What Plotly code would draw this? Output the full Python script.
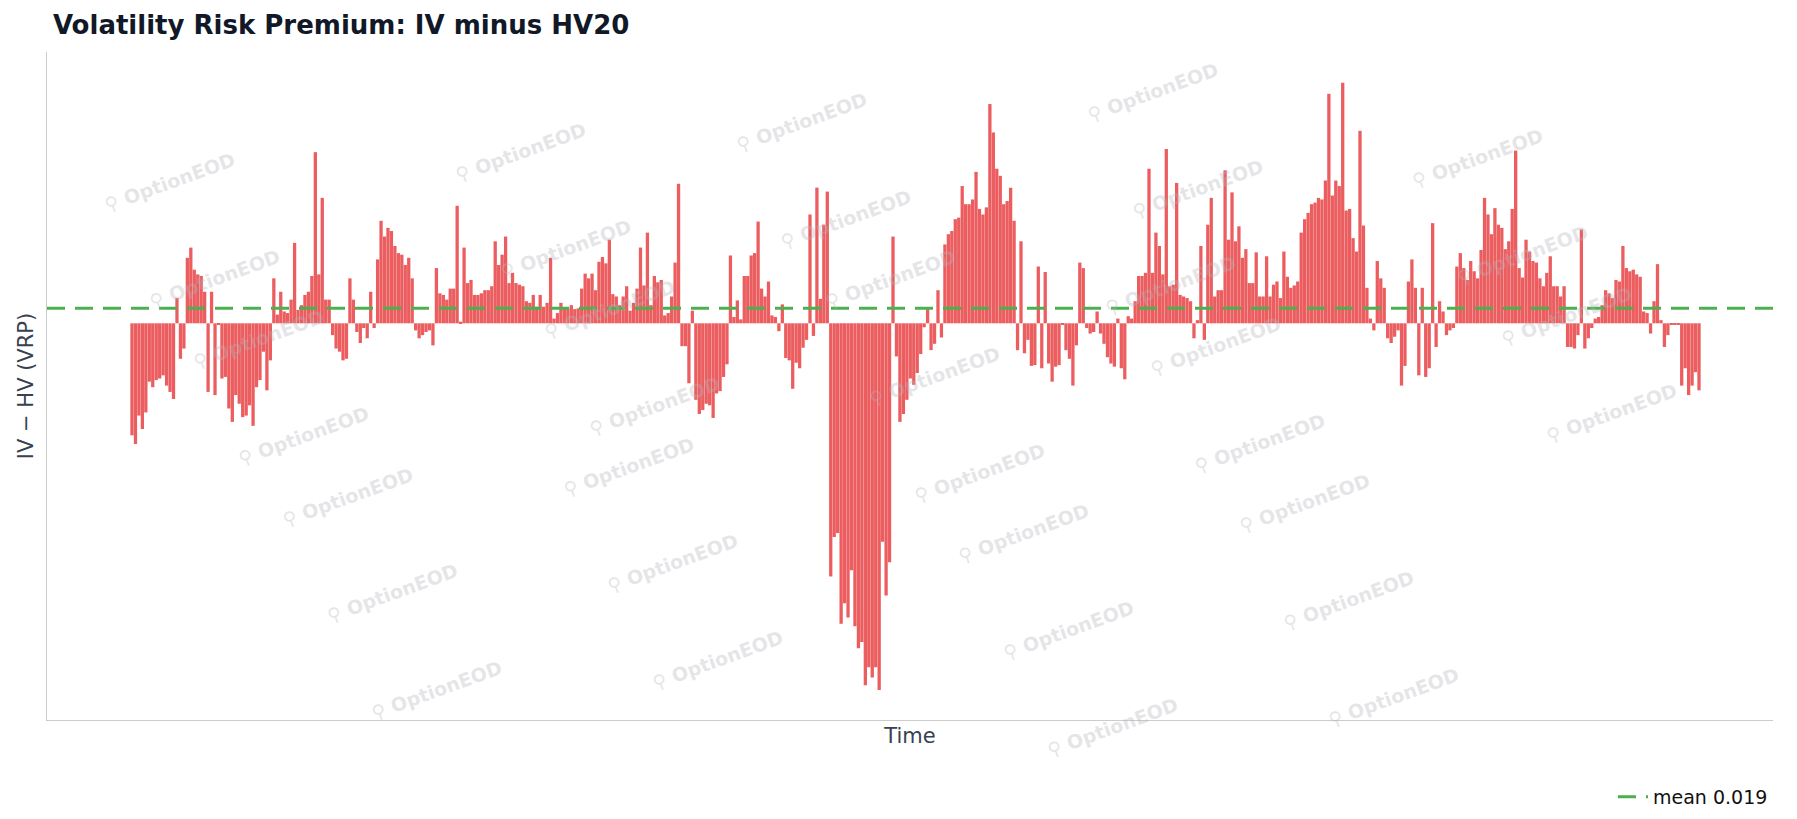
import plotly.graph_objects as go

# VRP values (IV - HV20), in chronological segments
seg1 = [-0.142,-0.153,-0.117,-0.134,-0.113,-0.074,-0.081,-0.072,-0.070,-0.066,-0.079,-0.087,-0.096,
        0.032,-0.045,-0.032,0.083,0.096,0.068,0.062,0.060,0.040,-0.087,0.040,-0.091,-0.002,-0.070,
        -0.068,-0.108,-0.125,-0.091,-0.102,-0.119,-0.117,-0.104,-0.130,-0.081,-0.072,-0.036,-0.085,-0.047,
        0.057,0.011,0.040,0.015,0.013,0.030,0.102,0.017,0.023,0.036,0.040,0.060,0.217,0.062,0.159,0.030,0.030,
        -0.015,-0.032,-0.036,-0.047,-0.045,0.057,0.030,-0.011,-0.025,-0.006,-0.019,0.040,-0.006,
        0.081,0.130,0.110,0.121,0.117,0.098,0.089,0.087,0.074,0.083,0.057,-0.009,-0.019,-0.015,-0.011,-0.009,-0.028,
        0.070,0.038,0.036,0.030,0.044,0.044,0.149,0.002,0.096,0.051,0.055,0.036,0.036,0.038,0.042,0.042,0.047,
        0.104,0.074,0.087,0.110,0.051,0.064,0.051,0.049,0.047,0.028,0.026,0.036,0.021,0.036,0.021,0.026,
        0.083,0.006,0.013,0.026,0.019,0.019]
seg2 = [0.023,0.018,0.019,0.044,0.063,0.057,0.063,0.042,0.078,0.084,0.076,0.106,0.037,0.034,0.023,0.034,0.047,
        0.016,0.026,0.044,0.096,0.048,0.115,0.023,0.060,0.052,0.055,0.010,0.013,0.034,0.077,0.177,
        -0.029,-0.029,-0.076,0.016,-0.097,-0.115,-0.110,-0.102,-0.104,-0.120,-0.089,-0.086,-0.068,-0.052,
        0.086,0.008,0.029,0.005,0.060,0.060,0.086,0.089,0.129,0.044,0.034,0.053,0.010,0.008,-0.010,0.024,-0.044,
        -0.047,-0.083,-0.050,-0.057,-0.031,-0.021,0.138,-0.016,0.172,0.031,0.125,0.167,
        -0.321,-0.271,-0.266,-0.381,-0.355,-0.373,-0.313,-0.384,-0.412,-0.404,-0.459,-0.436,-0.449,-0.436,-0.465,
        -0.277,-0.345,-0.303,0.110,-0.042,-0.125,-0.115,-0.097,-0.070,-0.078,-0.063,-0.039,-0.005,0.018,
        -0.034,-0.026,0.042,-0.018]
seg3 = [0.100,0.113,0.117,0.132,0.134,0.174,0.151,0.151,0.157,0.192,0.145,0.138,0.147,0.278,0.242,0.196,0.187,
        0.151,0.155,0.172,0.130,-0.034,0.104,-0.038,-0.021,-0.054,-0.053,0.072,-0.057,0.065,-0.051,-0.074,
        -0.055,-0.053,-0.002,-0.034,-0.045,-0.079,-0.028,0.077,0.070,-0.006,-0.013,-0.011,0.015,-0.013,-0.026,
        -0.043,-0.051,-0.055,0.006,-0.057,-0.071,0.009,0.006,0.028,0.060,0.060,0.064,0.196,0.064,0.115,0.098,0.062,
        0.221,0.047,0.049,0.178,0.036,0.034,0.032,0.028,-0.019,0.004,0.098,-0.021,0.125,0.159,
        0.034,0.042,0.042,0.194,0.106,0.166,0.104,0.123,0.083,0.094,0.051,0.051,0.090,0.034,
        0.034,0.085,0.034,0.049,0.053,0.032,0.091,0.059,0.045,0.048,0.053,0.115,0.132,0.140,
        0.151,0.153,0.159,0.157,0.181,0.291,0.162,0.181,0.174,0.305,0.143,0.145,0.108,0.091,0.244,0.124,0.045,
        0.006,-0.009,0.079,0.057,0.045,-0.019,-0.025,-0.017,-0.009,-0.079,-0.054,0.053]
seg4 = [0.081,0.045,-0.066,0.045,-0.068,-0.057,0.127,-0.030,0.028,0.015,-0.015,-0.009,-0.006,
        0.072,0.089,0.070,0.055,0.079,0.066,0.057,0.093,0.159,0.138,0.113,0.146,0.125,0.121,0.094,
        0.104,0.145,0.219,0.070,0.058,0.106,0.091,0.079,0.077,0.057,0.047,0.064,0.085,0.047,0.047,0.034,0.047,
        -0.030,-0.030,-0.032,-0.015,0.119,-0.032,-0.019,-0.006,0.006,0.008,0.023,0.042,0.038,0.032,
        0.055,0.053,0.098,0.070,0.066,0.068,0.062,0.059,0.015,0.013,-0.013,0.028,0.075,0.004,-0.030,
        -0.015,-0.002,-0.002,-0.002,-0.079,-0.057,-0.091,-0.079,-0.062,-0.085]
vrp = seg1 + seg2 + seg3 + seg4
idx = list(range(len(vrp)))
mean_val = 0.019
mean_label = "mean 0.019"

L, R, T, B = 39, 1765, 44, 713
N = len(vrp)
ppi = (1691 - 124) / (N - 1)
x0 = -(124 - L) / ppi
x1 = (N - 1) + (R - 1691) / ppi

fig = go.Figure()
fig.add_trace(go.Bar(x=idx, y=vrp, marker=dict(color="#eb5d5f", line=dict(width=0)),
                     showlegend=False, hoverinfo="y"))
fig.add_trace(go.Scatter(x=[x0, x1], y=[mean_val, mean_val], mode="lines", name=mean_label,
                         line=dict(color="#4caf50", width=3, dash="18px,10px")))

annots = []
for i in range(-1, 6):
    for j in range(-1, 8):
        px = 0.03 + i * 0.2035 + j * 0.0258
        py = 0.86 + i * 0.045 - j * 0.145
        if 0.02 < px < 0.97 and -0.1 < py < 1.02:
            annots.append(dict(x=px, y=py, xref="paper", yref="paper", text="<b>⚲ OptionEOD</b>",
                               showarrow=False, textangle=-20,
                               font=dict(size=19, color="rgba(180,180,190,0.35)", family="DejaVu Sans")))

fig.update_layout(
    width=1797, height=819, plot_bgcolor="white", paper_bgcolor="white",
    margin=dict(l=L, r=1797 - R, t=T, b=819 - B),
    title=dict(text="<b>Volatility Risk Premium: IV minus HV20</b>", x=0.025, xanchor="left",
               y=0.99, yanchor="top", font=dict(size=26, color="#111827", family="DejaVu Sans")),
    bargap=0.05,
    font=dict(family="DejaVu Sans", color="#333"),
    xaxis=dict(range=[x0, x1], showticklabels=False, showgrid=False, zeroline=False,
               showline=True, linecolor="#cccccc", ticks="",
               title=dict(text="Time", font=dict(size=21, color="#374151"), standoff=8)),
    yaxis=dict(range=[-0.503, 0.344], showticklabels=False, showgrid=False, zeroline=False,
               showline=True, linecolor="#cccccc", ticks="",
               title=dict(text="IV − HV (VRP)", font=dict(size=21, color="#374151"), standoff=6)),
    legend=dict(x=1.0, xanchor="right", y=-0.085, yanchor="top", font=dict(size=19, color="#111"),
                bgcolor="rgba(0,0,0,0)"),
    annotations=annots,
)
fig.write_html("out.html")
